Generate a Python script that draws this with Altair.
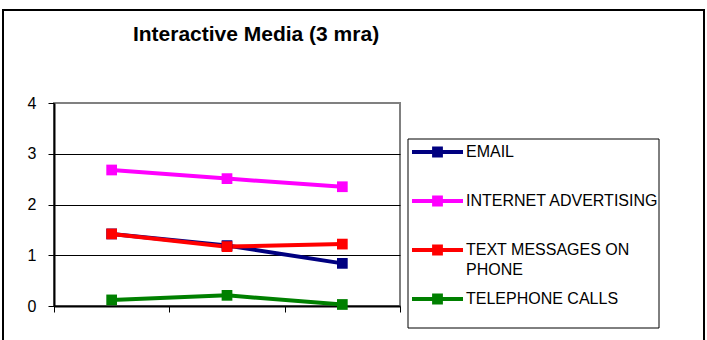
import altair as alt
import pandas as pd

# ---- data ----
periods = ["1", "2", "3"]
series_names = ["EMAIL", "INTERNET ADVERTISING", "TEXT MESSAGES ON PHONE", "TELEPHONE CALLS"]
email = [1.42, 1.19, 0.84]
internet_advertising = [2.68, 2.51, 2.35]
text_messages = [1.42, 1.17, 1.22]
telephone_calls = [0.12, 0.21, 0.03]
series_colors = ["#000080", "#FF00FF", "#FF0000", "#008000"]
y_ticks = [0, 1, 2, 3, 4]
title_text = "Interactive Media (3 mra)"

values = [email, internet_advertising, text_messages, telephone_calls]
rows = []
for name, vals in zip(series_names, values):
    for p, v in zip(periods, vals):
        rows.append({"period": p, "series": name, "value": v})
df = pd.DataFrame(rows)

FONT = "Liberation Sans"

# legend symbol: line with a square marker in the middle (unit box scaled by sqrt(size)/2)
SYMBOL = ("M-1.214,-0.095 L-0.257,-0.095 L-0.257,-0.257 L0.257,-0.257 L0.257,-0.095 "
          "L1.214,-0.095 L1.214,0.095 L0.257,0.095 L0.257,0.257 L-0.257,0.257 "
          "L-0.257,0.095 L-1.214,0.095 Z")

x_enc = alt.X(
    "period:O", sort=periods, bandPosition=0.5,
    scale=alt.Scale(type="band", paddingInner=0, paddingOuter=0),
    axis=alt.Axis(title=None, labels=False, tickBand="extent", tickSize=6,
                  tickColor="black", domainColor="black", domainWidth=2, grid=False),
)
y_enc = alt.Y(
    "value:Q", scale=alt.Scale(domain=[0, 4], nice=False),
    axis=alt.Axis(title=None, values=y_ticks, format="d", tickSize=6, tickColor="black",
                  domainColor="black", domainWidth=2, labelFontSize=16, labelFont=FONT,
                  labelColor="black", labelPadding=12, grid=True, gridColor="black",
                  gridWidth=1,
                  gridOpacity=alt.condition("datum.value == 0 || datum.value == 4",
                                            alt.value(0), alt.value(1))),
)

# stroke scale gets its domain from the sort (not an explicit list) so that its
# hidden legend is not merged with the colour legend
lines = alt.Chart(df).mark_line(strokeWidth=4).encode(
    x=x_enc, y=y_enc,
    stroke=alt.Stroke("series:N", sort=series_names,
                      scale=alt.Scale(range=series_colors), legend=None),
)

squares = alt.Chart(df).mark_square(size=115, filled=True, opacity=1).encode(
    x=x_enc, y=y_enc,
    color=alt.Color(
        "series:N", sort=series_names,
        scale=alt.Scale(domain=series_names, range=series_colors),
        legend=alt.Legend(
            title=None, orient="none", legendX=362.5, legendY=28, padding=0,
            symbolType=SYMBOL, symbolSize=1764, symbolStrokeWidth=0, symbolOpacity=1,
            labelFont=FONT, labelFontSize=16, labelColor="black", labelOffset=7.5,
            labelLimit=400, labelBaseline="middle", rowPadding=-6.3,
            labelExpr="datum.label == 'TEXT MESSAGES ON PHONE' ? ['TEXT MESSAGES ON', 'PHONE'] : [datum.label, '']",
        ),
    ),
)

deco = pd.DataFrame({"k": [0]})
outer_border = alt.Chart(deco).mark_rect(fill="transparent", stroke="black", strokeWidth=2).encode(
    x=alt.value(-51), x2=alt.value(650), y=alt.value(-93), y2=alt.value(250)
)
legend_box = alt.Chart(deco).mark_rect(fill="transparent", stroke="black", strokeWidth=1).encode(
    x=alt.value(354), x2=alt.value(605), y=alt.value(36), y2=alt.value(225)
)

chart = alt.layer(outer_border, legend_box, lines, squares).properties(
    width=346, height=203,
    autosize=alt.AutoSizeParams(type="none"),
    padding={"left": 54, "top": 103, "right": 307, "bottom": 34},
    title=alt.Title(title_text, font=FONT, fontSize=21, fontWeight="bold", color="black",
                    anchor="middle", frame="group", dx=29, baseline="alphabetic", offset=-53),
).configure(
    background="white", style={"guide-label": {"lineHeight": 20}}
).configure_view(stroke="#808080", strokeWidth=2)

chart.save("out.html", embed_options={"renderer": "svg", "actions": False})
